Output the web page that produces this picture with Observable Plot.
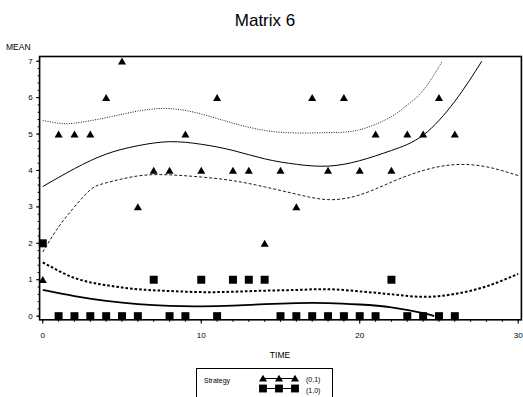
<!DOCTYPE html>
<html>
<head>
<meta charset="utf-8">
<script src="https://cdn.jsdelivr.net/npm/d3@7"></script>
<script src="https://cdn.jsdelivr.net/npm/@observablehq/plot@0.6"></script>
<style>
  html, body { margin: 0; padding: 0; background: #fff; }
  #chart { position: relative; width: 523px; height: 397px; overflow: hidden;
           font-family: "Liberation Sans", Arial, Helvetica, sans-serif; color: #000; }
  #chart svg.plot { position: absolute; left: 0; top: 0; }
  .lbl { position: absolute; white-space: nowrap; line-height: 1; }
  #title { left: 0; width: 530px; top: 12px; text-align: center; font-size: 17px; }
  #ylab { left: 6px; top: 43px; font-size: 8.5px; }
  #xlab { left: 180px; width: 200px; top: 351px; text-align: center; font-size: 8.5px; }
  #legend { position: absolute; left: 196px; top: 368px; width: 135px; height: 40px;
            border: 1px solid #000; background: #fff; font-size: 7px; }
  #legend .lbl { font-size: 7px; }
  #legend svg { position: absolute; left: 0; top: 0; }
</style>
</head>
<body>
<div id="chart">
  <div class="lbl" id="title">Matrix 6</div>
  <div class="lbl" id="ylab">MEAN</div>
  <div class="lbl" id="xlab">TIME</div>
  <div id="legend">
    <div class="lbl" style="left:7px; top:8px;">Strategy</div>
    <div class="lbl" style="left:109px; top:7px;">(0,1)</div>
    <div class="lbl" style="left:109px; top:18px;">(1,0)</div>
  </div>
</div>
<script>
// Observation times and mean responses for each strategy
const time = [0, 1, 2, 3, 4, 5, 6, 7, 8, 9, 10, 11, 12, 13, 14, 15, 16, 17, 18, 19, 20, 21, 22, 23, 24, 25, 26];
const mean01 = [1, 5, 5, 5, 6, 7, 3, 4, 4, 5, 4, 6, 4, 4, 2, 4, 3, 6, 4, 6, 4, 5, 4, 5, 5, 6, 5];
const mean10 = [2, 0, 0, 0, 0, 0, 0, 1, 0, 0, 1, 0, 1, 1, 1, 0, 0, 0, 0, 0, 0, 0, 1, 0, 0, 0, 0];

// Strategy (0,1): fitted curve with upper and lower confidence bands
const fit01T = [0, 2, 4, 6, 8, 10, 12, 14, 16, 18, 20, 22, 24, 26, 27.7];
const fit01 = [3.56, 4.05, 4.45, 4.68, 4.79, 4.72, 4.55, 4.32, 4.17, 4.12, 4.27, 4.55, 4.97, 5.9, 7.0];
const up01T = [0, 1, 2, 4, 6, 8, 10, 12, 14, 16, 18, 20, 22, 23, 24, 25, 25.2];
const up01 = [5.37, 5.30, 5.30, 5.45, 5.63, 5.70, 5.55, 5.30, 5.10, 5.03, 5.04, 5.12, 5.48, 5.80, 6.20, 6.85, 7.0];
const lo01T = [0, 1, 2, 3, 4, 6, 8, 10, 12, 14, 16, 18, 20, 22, 24, 26, 28, 30];
const lo01 = [1.76, 2.45, 3.0, 3.47, 3.66, 3.85, 3.88, 3.82, 3.72, 3.55, 3.35, 3.20, 3.33, 3.68, 4.00, 4.16, 4.10, 3.86];

// Strategy (1,0): fitted curve and upper confidence band
const fit10T = [0, 2, 4, 6, 8, 10, 12, 14, 16, 18, 20, 22, 24, 24.7];
const fit10 = [0.72, 0.55, 0.42, 0.33, 0.28, 0.27, 0.29, 0.33, 0.36, 0.36, 0.32, 0.24, 0.08, 0.0];
const up10T = [0, 2, 4, 6, 8, 10, 12, 14, 16, 18, 20, 22, 24, 26, 28, 30];
const up10 = [1.48, 1.05, 0.85, 0.74, 0.69, 0.66, 0.67, 0.70, 0.72, 0.74, 0.68, 0.60, 0.53, 0.61, 0.82, 1.16];

// Axis ticks
const xTicks = [0, 10, 20, 30];
const yTicks = [0, 1, 2, 3, 4, 5, 6, 7];

const pts = (ts, vs) => ts.map((t, i) => ({t, v: vs[i]}));
const curveOpts = {x: "t", y: "v", curve: "natural", stroke: "#000", strokeLinecap: "butt"};

const marks = [
  // minor ticks
  Plot.axisY({ticks: d3.ticks(0, 7, 35), tickSize: 1.5, tickFormat: () => "", label: null}),
  Plot.axisX({ticks: d3.range(0, 31), tickSize: 2.5, tickFormat: () => "", label: null}),
  // major ticks with labels
  Plot.axisY({ticks: yTicks, tickSize: 3, tickPadding: 4, label: null}),
  Plot.axisX({ticks: xTicks, tickSize: 4.5, tickPadding: 8, label: null}),
  Plot.frame({stroke: "#000", strokeWidth: 1.6}),

  Plot.line(pts(up01T, up01), {...curveOpts, strokeWidth: 0.9, strokeDasharray: "1,1.4"}),
  Plot.line(pts(fit01T, fit01), {...curveOpts, strokeWidth: 1}),
  Plot.line(pts(lo01T, lo01), {...curveOpts, strokeWidth: 0.9, strokeDasharray: "3,2"}),
  Plot.line(pts(up10T, up10), {...curveOpts, strokeWidth: 2, strokeDasharray: "2.6,2"}),
  Plot.line(pts(fit10T, fit10), {...curveOpts, strokeWidth: 1.8}),

  Plot.dot(pts(time, mean01), {x: "t", y: "v", symbol: "triangle", r: 3, fill: "#000", stroke: "none", dy: 1}),
  Plot.dot(pts(time, mean10), {x: "t", y: "v", symbol: "square", r: 4.5, fill: "#000", stroke: "none"})
];

const chart = Plot.plot({
  width: 523,
  height: 397,
  marginLeft: 39.1,
  marginRight: 2.1,
  marginTop: 56,
  marginBottom: 77.7,
  style: {fontFamily: '"Liberation Sans", Arial, sans-serif', fontSize: "8px", color: "#000", background: "transparent"},
  x: {domain: [-0.2, 30.2]},
  y: {domain: [-0.1, 7.13]},
  marks
});
chart.classList.add("plot");
document.getElementById("chart").prepend(chart);

// Legend symbols: three markers joined by a line for each strategy
const leg = d3.select("#legend").append("svg").attr("width", 135).attr("height", 40);
const symX = [66, 82, 98];
const rows = [
  {y: 9.5, type: d3.symbolTriangle, size: 28, dy: 0.8},
  {y: 19.5, type: d3.symbolSquare, size: 62, dy: 0}
];
rows.forEach(r => {
  leg.append("line").attr("x1", symX[0]).attr("x2", symX[2]).attr("y1", r.y).attr("y2", r.y)
    .attr("stroke", "#000").attr("stroke-width", 1);
  symX.forEach(x => {
    leg.append("path").attr("d", d3.symbol(r.type, r.size)())
      .attr("transform", `translate(${x},${r.y + r.dy})`).attr("fill", "#000");
  });
});
</script>
</body>
</html>
